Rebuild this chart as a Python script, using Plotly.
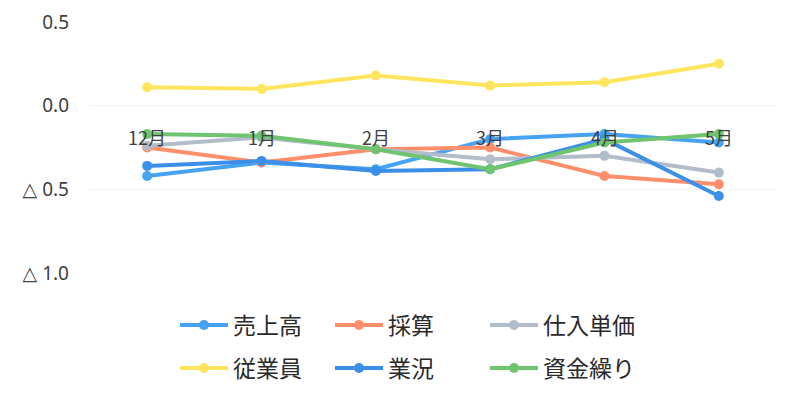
import plotly.graph_objects as go

months = ["12月", "1月", "2月", "3月", "4月", "5月"]
series_names = ["売上高", "採算", "仕入単価", "従業員", "業況", "資金繰り"]
uriage = [-0.42, -0.34, -0.38, -0.20, -0.17, -0.22]
saisan = [-0.25, -0.34, -0.26, -0.25, -0.42, -0.47]
shiire = [-0.24, -0.19, -0.26, -0.32, -0.30, -0.40]
jugyoin = [0.11, 0.10, 0.18, 0.12, 0.14, 0.25]
gyokyo = [-0.36, -0.33, -0.39, -0.38, -0.20, -0.54]
shikin = [-0.17, -0.18, -0.26, -0.38, -0.22, -0.17]
ytick_vals = [0.5, 0.0, -0.5, -1.0]
ytick_text = ["0.5", "0.0", "△ 0.5", "△ 1.0"]

values = [uriage, saisan, shiire, jugyoin, gyokyo, shikin]
colors = ["#45a3f2", "#ff8f6b", "#b3bccb", "#ffe55e", "#3b8fe8", "#6fc46f"]
legend_ids = ["legend", "legend", "legend", "legend2", "legend2", "legend2"]

font_family = "Noto Sans CJK JP"
fig = go.Figure()
for name, vals, col, lg in zip(series_names, values, colors, legend_ids):
    fig.add_trace(go.Scatter(
        x=months, y=vals, name=name, mode="lines+markers",
        line=dict(color=col, width=4),
        marker=dict(color=col, size=10),
        legend=lg,
    ))

for m in months:
    fig.add_annotation(x=m, y=0, xref="x", yref="y", text=m, showarrow=False,
                       yshift=-31, font=dict(family=font_family, size=18, color="#404040"))

# the page body has an 8px default margin, so layout is offset by -8px
legend_common = dict(orientation="h", xref="container", yref="container",
                     xanchor="left", yanchor="middle", entrywidth=92,
                     font=dict(family=font_family, size=23, color="#2a2a2a"),
                     bgcolor="rgba(0,0,0,0)", itemwidth=48, tracegroupgap=0)

fig.update_layout(
    width=803, height=398,
    margin=dict(l=82, r=35, t=14, b=133, autoexpand=False),
    paper_bgcolor="white", plot_bgcolor="white",
    showlegend=True,
    legend=dict(x=167/803, y=1 - 317/398, **legend_common),
    legend2=dict(x=167/803, y=1 - 360/398, **legend_common),
    xaxis=dict(type="category", range=[-0.5, 5.5], showticklabels=False,
               showgrid=False, zeroline=False, showline=False),
    yaxis=dict(range=[-1.0, 0.5], tickvals=ytick_vals, ticktext=ytick_text,
               showgrid=True, gridcolor="#f3f3f3", gridwidth=1, zeroline=False,
               showline=False, ticklabelstandoff=20, ticklabeloverflow="allow",
               tickfont=dict(family="Noto Sans, DejaVu Sans", size=19, color="#404040")),
)

fig.write_html("out.html")
